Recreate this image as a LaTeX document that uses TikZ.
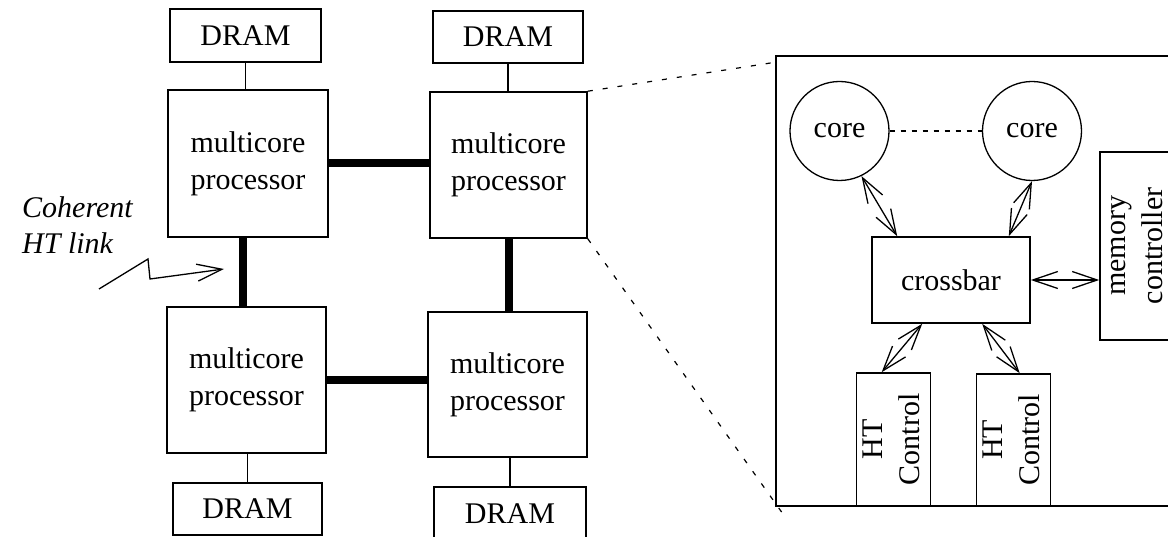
\documentclass[tikz,border=0pt]{standalone}
\usepackage{fontspec}
\setmainfont{Liberation Serif}
\usetikzlibrary{arrows.meta,calc}
% text set sideways, one centred line per row
\newcommand\sidetext[1]{\rotatebox{90}{\begin{tabular}{@{}c@{}}#1\end{tabular}}}
\begin{document}
\begin{tikzpicture}[x=1pt,y=-1pt,
  every node/.style={font=\fontsize{30}{37}\selectfont, inner sep=0pt},
  box/.style={draw, line width=1.6pt, rectangle, align=center},
  corenode/.style={draw, circle, line width=1.3pt, minimum size=99pt},
  wire/.style={line width=1.6pt},
  bus/.style={line width=8pt},
  biarrow/.style={line width=1.3pt, {Straight Barb[length=25pt,width=17pt]}-{Straight Barb[length=25pt,width=17pt]}},
  zoomline/.style={line width=1.2pt, dash pattern=on 5pt off 10pt},
  coreline/.style={line width=1.2pt, dash pattern=on 5pt off 6pt}]

\clip (0,0) rectangle (1168,537);

% ---- four-socket system ----
\node[box, minimum width=151pt, minimum height=53pt] (dtl) at (245.5,35.5) {DRAM};
\node[box, minimum width=150pt, minimum height=52pt] (dtr) at (508,37) {DRAM};
\node[box, minimum width=160pt, minimum height=147pt] (ptl) at (248,163.5) {multicore\\processor};
\node[box, minimum width=157pt, minimum height=146pt] (ptr) at (508.5,165) {multicore\\processor};
\node[box, minimum width=159pt, minimum height=146pt] (pbl) at (246.5,380) {multicore\\processor};
\node[box, minimum width=159pt, minimum height=145pt] (pbr) at (507.5,384.5) {multicore\\processor};
\node[box, minimum width=149pt, minimum height=52pt] (dbl) at (247.5,509) {DRAM};
\node[box, minimum width=152pt, minimum height=54pt] (dbr) at (510,514) {DRAM};

\draw[wire] (dtl.south) -- (dtl.south |- ptl.north);
\draw[wire] (dtr.south) -- (dtr.south |- ptr.north);
\draw[wire] (dbl.north) -- (dbl.north |- pbl.south);
\draw[wire] (dbr.north) -- (dbr.north |- pbr.south);

% coherent HT links
\coordinate (lx) at (243,0);
\coordinate (rx) at (509,0);
\coordinate (ty) at (0,163);
\coordinate (by) at (0,380);
\draw[bus] (ptl.south -| lx) -- (pbl.north -| lx);
\draw[bus] (ptr.south -| rx) -- (pbr.north -| rx);
\draw[bus] (ptl.east |- ty) -- (ptr.west |- ty);
\draw[bus] (pbl.east |- by) -- (pbr.west |- by);

\node[anchor=north west, align=left, font=\fontsize{30}{36}\selectfont\itshape] (htlabel) at (22,196) {Coherent\\HT link};
\coordinate (l0) at (99,289);
\coordinate (l1) at (148,259);
\coordinate (l2) at (150,279);
\coordinate (l3) at (224,269);
\draw[wire, line width=1.3pt, -{Straight Barb[length=25pt,width=17pt]}] (l0) -- (l1) -- (l2) -- (l3);

% ---- inside one processor ----
\node[draw, line width=1.6pt, minimum width=430pt, minimum height=450pt] (frame) at (991,281) {};
\coordinate (zt) at (777,62);
\coordinate (zb) at (783,514);
\draw[zoomline] (ptr.north east) -- (zt);
\draw[zoomline] (ptr.south east) -- (zb);

\node[corenode] (cl) at (839.5,131) {core};
\node[corenode] (cr) at (1032,131) {core};
\draw[coreline] (cl.east) -- (cr.west);

\node[box, minimum width=158pt, minimum height=86pt] (xb) at (951,280) {crossbar};
\node[box, minimum width=70pt, minimum height=188pt] (mc) at (1137,246) {\sidetext{memory\\controller}};
\node[box, minimum width=73pt, minimum height=133pt] (ht1) at (893.5,439.5) {\sidetext{HT\\Control}};
\node[box, minimum width=73pt, minimum height=132pt] (ht2) at (1013.5,440) {\sidetext{HT\\Control}};

\draw[biarrow] (cl.-64) -- ($(xb.north west)+(26,0)$);
\draw[biarrow] (cr.south) -- ($(xb.north east)+(-22,0)$);
\draw[biarrow] (xb.east) -- (xb.east -| mc.west);
\draw[biarrow] ($(xb.south west)+(51,0)$) -- ($(ht1.north west)+(26,0)$);
\draw[biarrow] ($(xb.south west)+(111,0)$) -- ($(ht2.north west)+(44,0)$);
\end{tikzpicture}
\end{document}
